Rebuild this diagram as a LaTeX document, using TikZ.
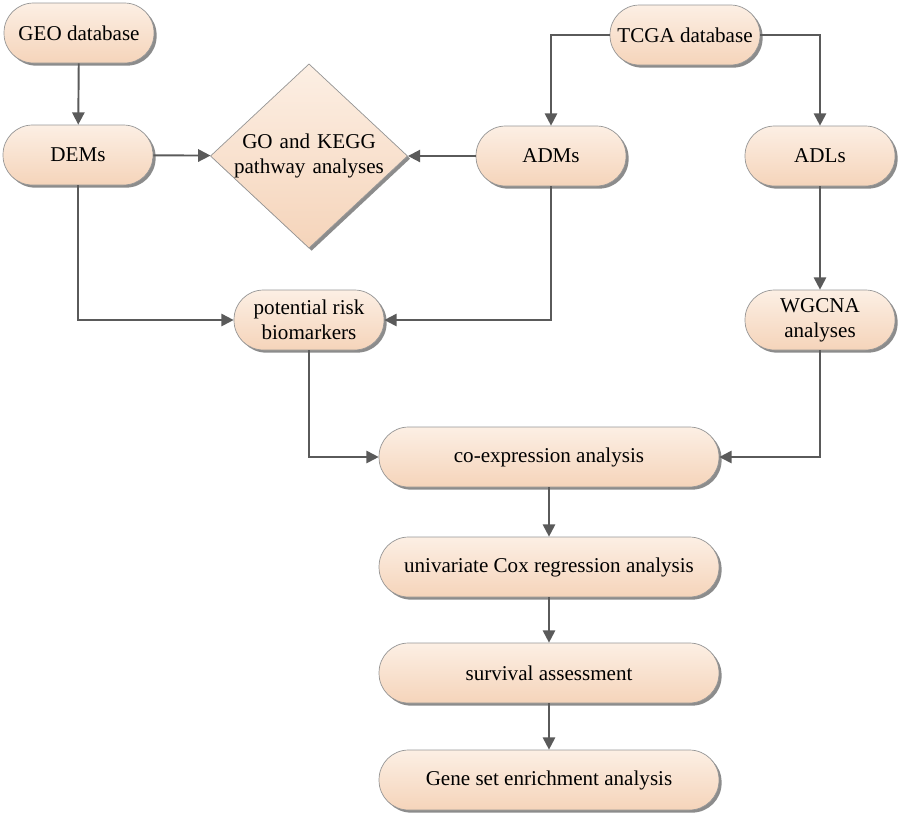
\documentclass[tikz,border=0pt]{standalone}
\usepackage{fontspec}
\setmainfont{Liberation Serif}
\usetikzlibrary{arrows.meta,shapes.geometric,shadows}
\definecolor{boxtop}{RGB}{252,239,228}
\definecolor{boxbot}{RGB}{245,212,186}
\definecolor{boxline}{RGB}{150,150,150}
\definecolor{linkgray}{RGB}{90,90,90}

\begin{document}
\begin{tikzpicture}[x=0.02cm,y=-0.02cm,
  every node/.style={font=\fontsize{12}{14.2}\selectfont},
  flowbox/.style={rectangle,rounded corners=0.59cm,draw=boxline,line width=0.4pt,
    top color=boxtop,bottom color=boxbot,minimum width=3cm,minimum height=1.2cm,
    align=center,inner sep=2pt,
    drop shadow={shadow xshift=1.5pt,shadow yshift=-1.5pt,fill=black!45,opacity=1}},
  widebox/.style={flowbox,minimum width=6.8cm},
  choice/.style={diamond,aspect=1.07,draw=boxline,line width=0.4pt,
    top color=boxtop,bottom color=boxbot,minimum width=3.86cm,minimum height=3.6cm,
    inner sep=0pt,text width=3cm,align=center,
    drop shadow={shadow xshift=1.5pt,shadow yshift=-1.5pt,fill=black!45,opacity=1}},
  link/.style={draw=linkgray,line width=1.1pt,-{Triangle[length=7pt,width=7pt]}}]
\useasboundingbox (0,0) rectangle (900,816);
\node[flowbox] (geo) at (79,33) {GEO database};
\node[flowbox] (dems) at (78,155) {DEMs};
\node[choice] (kegg) at (309,156) {GO and KEGG\\pathway analyses};
\node[flowbox] (adms) at (551,156) {ADMs};
\node[flowbox] (tcga) at (685,35) {TCGA database};
\node[flowbox] (adls) at (820,156) {ADLs};
\node[flowbox] (risk) at (309,320) {potential risk\\biomarkers};
\node[flowbox] (wgcna) at (820,320) {WGCNA\\analyses};
\node[widebox] (coexp) at (549,457) {co-expression analysis};
\node[widebox] (cox) at (549,567) {univariate Cox regression analysis};
\node[widebox] (surv) at (549,673) {survival assessment};
\node[widebox] (gsea) at (549,780) {Gene set enrichment analysis};

\draw[link] (geo) -- (dems);
\draw[link] (dems) -- (kegg);
\draw[link] (adms) -- (kegg);
\draw[link] (tcga.west) -| (adms.north);
\draw[link] (tcga.east) -| (adls.north);
\draw[link] (adls) -- (wgcna);
\draw[link] (dems.south) |- (risk.west);
\draw[link] (adms.south) |- (risk.east);
\draw[link] (risk.south) |- (coexp.west);
\draw[link] (wgcna.south) |- (coexp.east);
\draw[link] (coexp) -- (cox);
\draw[link] (cox) -- (surv);
\draw[link] (surv) -- (gsea);
\end{tikzpicture}
\end{document}
